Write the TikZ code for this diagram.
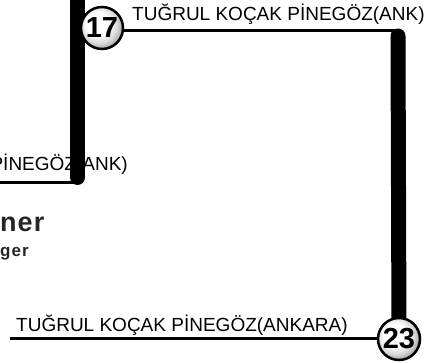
\documentclass[tikz,border=0pt]{standalone}
\usepackage{fontspec}
\setmainfont{Liberation Sans}
\usepackage{tikz}

\pgfdeclareradialshading{stationball}{\pgfpoint{-7bp}{7bp}}{color(0bp)=(white); color(14bp)=(white); color(22bp)=(gray!30); color(28bp)=(gray!70); color(50bp)=(gray!70)}

\begin{document}
\begin{tikzpicture}[x=1pt,y=-1pt,
    trunk/.style={line width=15pt,line cap=round},
    feeder/.style={line width=3pt},
    station/.style={circle,draw=black,line width=2.5pt,shading=stationball,minimum size=42pt,inner sep=0pt,font=\bfseries\fontsize{29}{29}\selectfont},
    stoplabel/.style={inner sep=0pt,font=\fontsize{19}{19}\selectfont}]
        \useasboundingbox (0,0) rectangle (434,363);
        % legend, cut by the edge
        \node[anchor=base west,inner sep=0pt,text=black!85,font=\bfseries\fontsize{27}{27}\selectfont\addfontfeatures{LetterSpace=4}] (legbig) at (0,232) {ner};
        \node[anchor=base west,inner sep=0pt,text=black!85,font=\bfseries\fontsize{17}{17}\selectfont\addfontfeatures{LetterSpace=6}] (legsmall) at (0,257) {ger};
        % stop labels
        \node[stoplabel,anchor=base east] (lbloff) at (128,171) {PİNEGÖZ(ANK)};
        \node[stoplabel,anchor=base west] (lbl17) at (132,21) {TUĞRUL KOÇAK PİNEGÖZ(ANK)};
        \node[stoplabel,anchor=base west] (lbl23) at (16,332) {TUĞRUL KOÇAK PİNEGÖZ(ANKARA)};
        % route points
        \coordinate (c17) at (102,28);
        \coordinate (c23) at (399,339);
        \coordinate (topL) at (77.5,-10);
        \coordinate (bendL) at (77.5,177.5);
        \coordinate (endL) at (-2,183);
        \coordinate (bendR) at (398,31);
        \coordinate (bendRt) at (398,36);
        \coordinate (endB) at (10,339);
        % route
        \draw[trunk] (topL) -- (bendL);
        \draw[feeder] (endL) -- (bendL |- endL);
        \draw[feeder] (c17 |- bendR) -- (bendR);
        \draw[trunk] (bendRt) -- (c23);
        \draw[feeder] (endB) -- (c23);
        % stations
        \node[station] (st17) at (c17) {17};
        \node[station] (st23) at (c23) {23};
    \end{tikzpicture}
\end{document}
